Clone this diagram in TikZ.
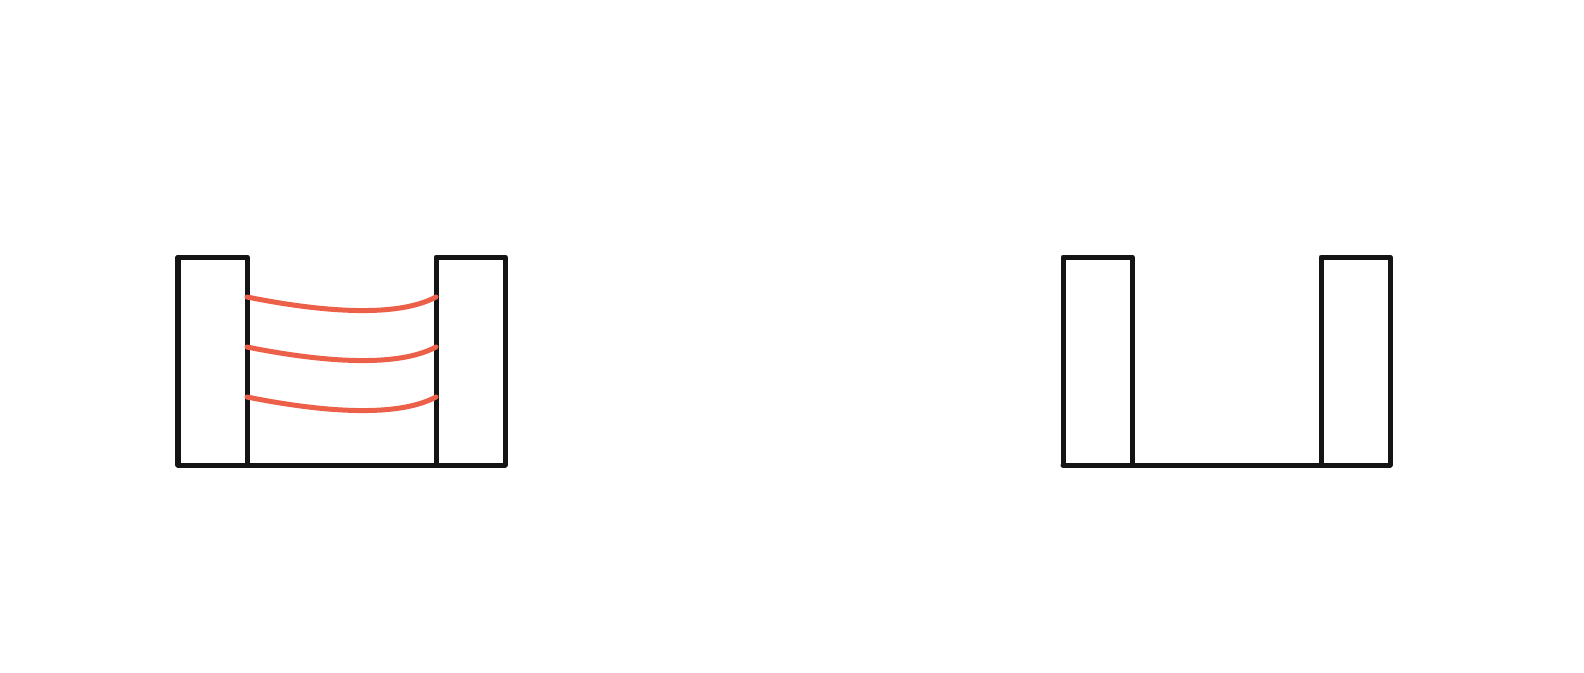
\documentclass[tikz,border=0pt]{standalone}
\usepackage{tikz}
\usetikzlibrary{positioning, calc}
\definecolor{wallblack}{RGB}{20,20,20}
\definecolor{bondred}{RGB}{236,96,74}

\begin{document}
\begin{tikzpicture}[x=0.01cm, y=-0.01cm,
	wall/.style={draw=wallblack, line width=0.05cm, line join=round, line cap=round},
	bond/.style={draw=bondred, line width=0.05cm, line cap=round}]
	\useasboundingbox (0,0) rectangle (1584,672);
	
	% left pair, joined
	\draw[wall] (178,465) -- (178,257) -- (247,257) -- (247,465);
	\draw[wall] (436,465) -- (436,257) -- (505,257) -- (505,465);
	\draw[wall] (178,465) -- (505,465);
	\foreach \y [count=\i] in {297,347,397} {
		\coordinate (l\i) at (247,\y);
		\coordinate (r\i) at (436,\y);
		\draw[bond] (l\i) .. controls ($(l\i)+(55,11)$) and ($(r\i)+(-45,24)$) .. (r\i);
	}
	
	% right pair, apart
	\draw[wall] (1063,465) -- (1063,257) -- (1132,257) -- (1132,465);
	\draw[wall] (1321,465) -- (1321,257) -- (1390,257) -- (1390,465);
	\draw[wall] (1063,465) -- (1390,465);
\end{tikzpicture}
\end{document}
